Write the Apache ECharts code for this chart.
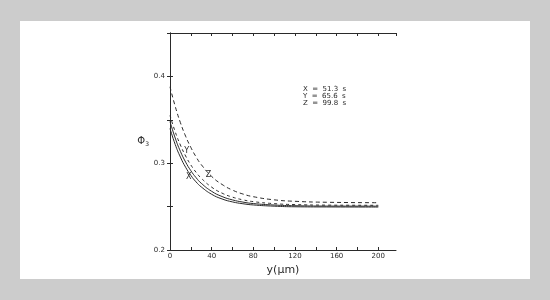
<!DOCTYPE html>
<html><head><meta charset="utf-8">
<script src="https://cdn.jsdelivr.net/npm/echarts@6/dist/echarts.min.js"></script>
<style>html,body{margin:0;padding:0;background:#cccccc;}#c{width:550px;height:300px;}</style>
</head><body><div id="c"></div>
<script>
var xs = [0,5,10,15,20,25,30,40,50,60,70,80,100,120,150,200];
var curveX = [0.340,0.3216,0.307,0.2953,0.286,0.2785,0.2727,0.2642,0.2588,0.2554,0.2533,0.2519,0.2505,0.2498,0.2496,0.2495];
var curveW = [0.348,0.329,0.3136,0.3013,0.2914,0.2834,0.2769,0.2676,0.2616,0.2577,0.2552,0.2535,0.2518,0.2510,0.2506,0.2505];
var curveY = [0.355,0.3362,0.3209,0.3083,0.298,0.2896,0.2827,0.2724,0.2655,0.2609,0.2578,0.2557,0.2534,0.2523,0.2517,0.2515];
var curveZ = [0.388,0.3655,0.3467,0.3311,0.3182,0.3074,0.2984,0.2848,0.2755,0.269,0.2645,0.2614,0.2578,0.2561,0.2550,0.2545];
var legendLines = ['X  =  51.3  s','Y  =  65.6  s','Z  =  99.8  s'];
var curveLabels = [{t:'X', x:18, y:0.284},{t:'Y', x:16, y:0.314},{t:'Z', x:37, y:0.287}];

function pairs(v){ return xs.map(function(x,i){return [x,v[i]];}); }
var ink = '#2a2a2a';
var chart = echarts.init(document.getElementById('c'));
function lineSeries(data, type, extra){
  var s = {type:'line', data:pairs(data), showSymbol:false, smooth:true, xAxisIndex:0, yAxisIndex:0,
    lineStyle:{color:ink, width:1, type:type}, silent:true, animation:false};
  if(extra) s.markPoint = extra;
  return s;
}
function mp(lbl){
  return {symbol:'circle', symbolSize:0, animation:false, silent:true,
    label:{show:true, formatter:lbl.t, color:ink, fontSize:8, fontFamily:'DejaVu Sans'},
    data:[{coord:[lbl.x,lbl.y]}]};
}
var axisCommon = {
  axisLine:{lineStyle:{color:ink, width:1}},
  axisTick:{inside:true, length:3, lineStyle:{color:ink}},
  splitLine:{show:false}
};
chart.setOption({
  animation:false,
  backgroundColor:'#cccccc',
  graphic:[{type:'rect', shape:{x:20,y:21,width:510,height:258}, style:{fill:'#ffffff'}, z:-10}],
  title:{text:legendLines.join('\n'), left:298, top:81,
    textStyle:{fontSize:7, lineHeight:7, fontWeight:'normal', color:ink, fontFamily:'DejaVu Sans'}},
  grid:{left:170, right:154, top:33, bottom:50},
  xAxis:[
    Object.assign({type:'value', min:0, max:217, interval:20, position:'bottom',
      name:'y(μm)', nameLocation:'middle', nameGap:15,
      nameTextStyle:{fontSize:11, color:ink, fontFamily:'DejaVu Sans'},
      axisLabel:{fontSize:7, color:ink, margin:3, showMaxLabel:false, fontFamily:'DejaVu Sans',
        formatter:function(v){return (v%40===0 && v<=200)? String(v):'';}}}, axisCommon),
    Object.assign({type:'value', min:0, max:217, interval:20, position:'top', axisLabel:{show:false}}, axisCommon)
  ],
  yAxis:[
    Object.assign({type:'value', min:0.2, max:0.45, interval:0.05, position:'left',
      name:'{a|Φ}{b|3}', nameLocation:'middle', nameRotate:0, nameGap:20,
      nameTextStyle:{rich:{a:{fontSize:10,color:ink,fontFamily:'DejaVu Sans'},b:{fontSize:6,color:ink,verticalAlign:'bottom',padding:[6,0,0,0],fontFamily:'DejaVu Sans'}}},
      axisLabel:{fontSize:7, color:ink, margin:5, showMaxLabel:false, fontFamily:'DejaVu Sans',
        formatter:function(v){var k=v*10; return Math.abs(k-Math.round(k))<1e-6 ? v.toFixed(1):'';}}}, axisCommon),
    Object.assign({type:'value', min:0.2, max:0.45, interval:0.05, position:'right', axisLabel:{show:false}}, axisCommon)
  ],
  series:[
    lineSeries(curveX,'solid', mp(curveLabels[0])),
    lineSeries(curveW,'solid'),
    lineSeries(curveY,[3,3], mp(curveLabels[1])),
    lineSeries(curveZ,[4,3], mp(curveLabels[2]))
  ]
});
</script></body></html>
